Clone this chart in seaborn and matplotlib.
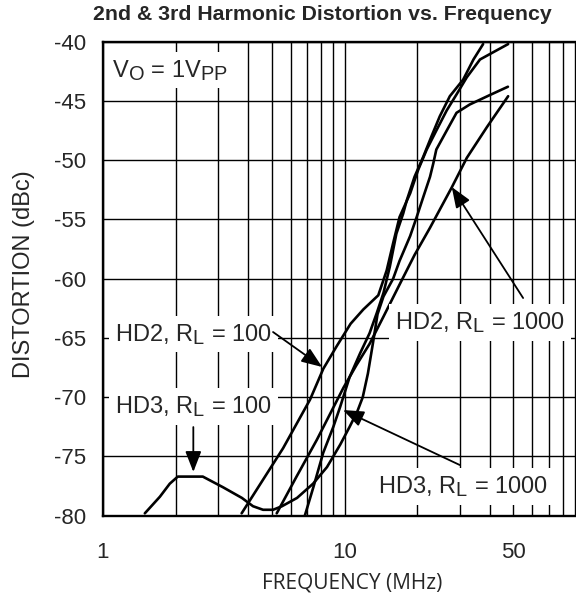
import numpy as np
import pandas as pd
import matplotlib
matplotlib.use("Agg")
import matplotlib.pyplot as plt
import matplotlib.ticker as mticker
import seaborn as sns
import matplotlib._mathtext as _mt

# ---------------- data ----------------
hd2_100_freq = [3.75, 5.57, 7.2, 8.17, 9.28, 10.6, 11.96, 13.8, 14.95, 15.9, 16.9, 18.7,
                20.2, 21.9, 24.0, 26.5, 29.2, 32.1, 36.4, 47.6]
hd2_100_db = [-79.8, -74.3, -70.2, -67.6, -65.7, -63.8, -62.6, -61.4, -59.3, -57.0, -54.8,
              -52.8, -50.8, -49.1, -47.5, -45.8, -44.4, -43.0, -41.5, -40.2]

hd3_100_freq = [1.49, 1.72, 1.89, 2.04, 2.59, 3.14, 3.76, 4.18, 4.6, 5.06, 5.51, 6.36, 7.41,
                8.46, 9.6, 10.5, 11.3, 11.9, 12.5, 13.1, 13.7, 14.5, 15.9, 16.9, 18.7, 19.9,
                21.2, 22.6, 23.3, 24.0, 26.5, 29.1, 33.0, 40.0, 47.5]
hd3_100_db = [-79.8, -78.4, -77.3, -76.7, -76.7, -77.6, -78.5, -79.2, -79.5, -79.5, -79.2,
              -78.5, -77.3, -75.9, -74.0, -72.5, -71.2, -70.0, -68.0, -65.5, -63.0, -61.5,
              -60.0, -58.5, -56.4, -54.8, -53.1, -51.4, -50.3, -49.1, -47.5, -46.0, -45.3,
              -44.5, -43.8]

hd2_1000_freq = [5.24, 6.33, 7.68, 8.72, 9.9, 11.2, 12.7, 14.5, 16.9, 19.5, 22.6, 27.8,
                 32.1, 38.9, 47.6]
hd2_1000_db = [-79.8, -76.7, -73.6, -71.4, -69.2, -67.3, -65.5, -63.2, -60.5, -58.0, -55.7,
               -52.3, -49.8, -47.2, -44.6]

hd3_1000_freq = [6.85, 7.43, 8.16, 8.99, 9.6, 10.5, 11.6, 12.7, 13.6, 14.5, 15.4, 16.4,
                 17.5, 18.1, 19.5, 21.2, 22.9, 24.8, 27.3, 31.0, 34.2, 37.5]
hd3_1000_db = [-80.0, -77.6, -74.7, -72.5, -70.8, -68.3, -66.3, -64.6, -62.9, -61.2, -59.0,
               -56.2, -54.5, -53.4, -51.4, -49.7, -48.0, -46.3, -44.6, -43.2, -41.5, -40.2]

y_ticks = [-40, -45, -50, -55, -60, -65, -70, -75, -80]
x_major = [1, 10, 50]
x_major_labels = ["1", "10", "50"]

title = "2nd & 3rd Harmonic Distortion vs. Frequency"
x_label = "FREQUENCY (MHz)"
y_label = "DISTORTION (dBc)"

# ---------------- build tidy frame ----------------
frames = []
for name, fr, db in [("HD2_100", hd2_100_freq, hd2_100_db),
                     ("HD3_100", hd3_100_freq, hd3_100_db),
                     ("HD2_1000", hd2_1000_freq, hd2_1000_db),
                     ("HD3_1000", hd3_1000_freq, hd3_1000_db)]:
    frames.append(pd.DataFrame({"freq": fr, "dist": db, "curve": name}))
df = pd.concat(frames, ignore_index=True)

# ---------------- style ----------------
sns.set_style("white")
plt.rcParams["font.family"] = ["Liberation Sans", "DejaVu Sans"]
plt.rcParams["mathtext.fontset"] = "custom"
plt.rcParams["mathtext.rm"] = "Liberation Sans"
plt.rcParams["mathtext.it"] = "Liberation Sans"
_mt.SHRINK_FACTOR = 0.85

W, H = 576, 598
fig = plt.figure(figsize=(W / 100, H / 100), dpi=100)
ax = fig.add_axes([103 / W, 1 - 515.7 / H, 483 / W, 474 / H])

sns.lineplot(data=df, x="freq", y="dist", hue="curve", units="curve", estimator=None,
             sort=False, palette=["black"] * 4, legend=False, linewidth=1.9, ax=ax,
             zorder=3)

ax.set_xscale("log")
ax.set_xlim(1, 100)
ax.set_ylim(-80, -40)

ax.xaxis.set_major_locator(mticker.FixedLocator(x_major))
ax.xaxis.set_major_formatter(mticker.FixedFormatter(x_major_labels))
minor = [m * d for d in (1, 10) for m in range(2, 10) if m * d not in x_major]
ax.xaxis.set_minor_locator(mticker.FixedLocator(minor))
ax.xaxis.set_minor_formatter(mticker.NullFormatter())
ax.set_yticks(y_ticks)
ax.set_yticklabels([str(v) for v in y_ticks])

ax.grid(True, which="both", axis="both", color="black", linewidth=1.0, zorder=1)
ax.set_axisbelow(True)
ax.tick_params(axis="both", which="both", length=0)
ax.tick_params(axis="y", labelsize=16, pad=12)
ax.tick_params(axis="x", labelsize=16, pad=19)

for s in ["left", "bottom", "top"]:
    ax.spines[s].set_linewidth(1.7)
    ax.spines[s].set_color("black")
ax.spines["right"].set_visible(False)

ax.set_xlabel("")
ax.set_ylabel("")

fig.text(322 / W, 1 - 15 / H, title, ha="center", va="center", fontsize=15.3,
         fontweight="bold")
fig.text(24 / W, 1 - 274 / H, y_label, rotation=90, ha="center", va="center",
         fontsize=17)
fig.text(352 / W, 1 - 583 / H, x_label, ha="center", va="center", fontsize=15,
         family=["Open Sans", "DejaVu Sans"])

bbox = dict(boxstyle="square,pad=0.25", fc="white", ec="none")
fs = 17
ax.text(1.086, -42.95, r"V$_\mathrm{O}$ = 1V$_\mathrm{PP}$", fontsize=fs,
        ha="left", va="baseline", bbox=bbox, zorder=5)
ax.text(1.121, -65.23, r"HD2, R$_\mathrm{L}$ = 100", fontsize=fs,
        ha="left", va="baseline", bbox=bbox, zorder=5)
ax.text(1.121, -71.31, r"HD3, R$_\mathrm{L}$ = 100", fontsize=fs,
        ha="left", va="baseline", bbox=bbox, zorder=5)
ax.text(16.2, -64.27, r"HD2, R$_\mathrm{L}$ = 1000", fontsize=fs,
        ha="left", va="baseline", bbox=bbox, zorder=5)
ax.text(13.8, -78.06, r"HD3, R$_\mathrm{L}$ = 1000", fontsize=fs,
        ha="left", va="baseline", bbox=bbox, zorder=5)

arrow = dict(arrowstyle="-|>,head_length=0.9,head_width=0.35", color="black",
             lw=1.3, shrinkA=0, shrinkB=0, mutation_scale=14)
for tail, tip in [((5.06, -64.5), (8.08, -67.45)),
                  ((2.366, -72.52), (2.366, -76.31)),
                  ((54.9, -61.63), (27.8, -52.26)),
                  ((30.0, -75.72), (9.86, -71.08))]:
    ax.annotate("", xy=tip, xytext=tail, arrowprops=arrow, zorder=6)

fig.savefig("out.png", dpi=100)
